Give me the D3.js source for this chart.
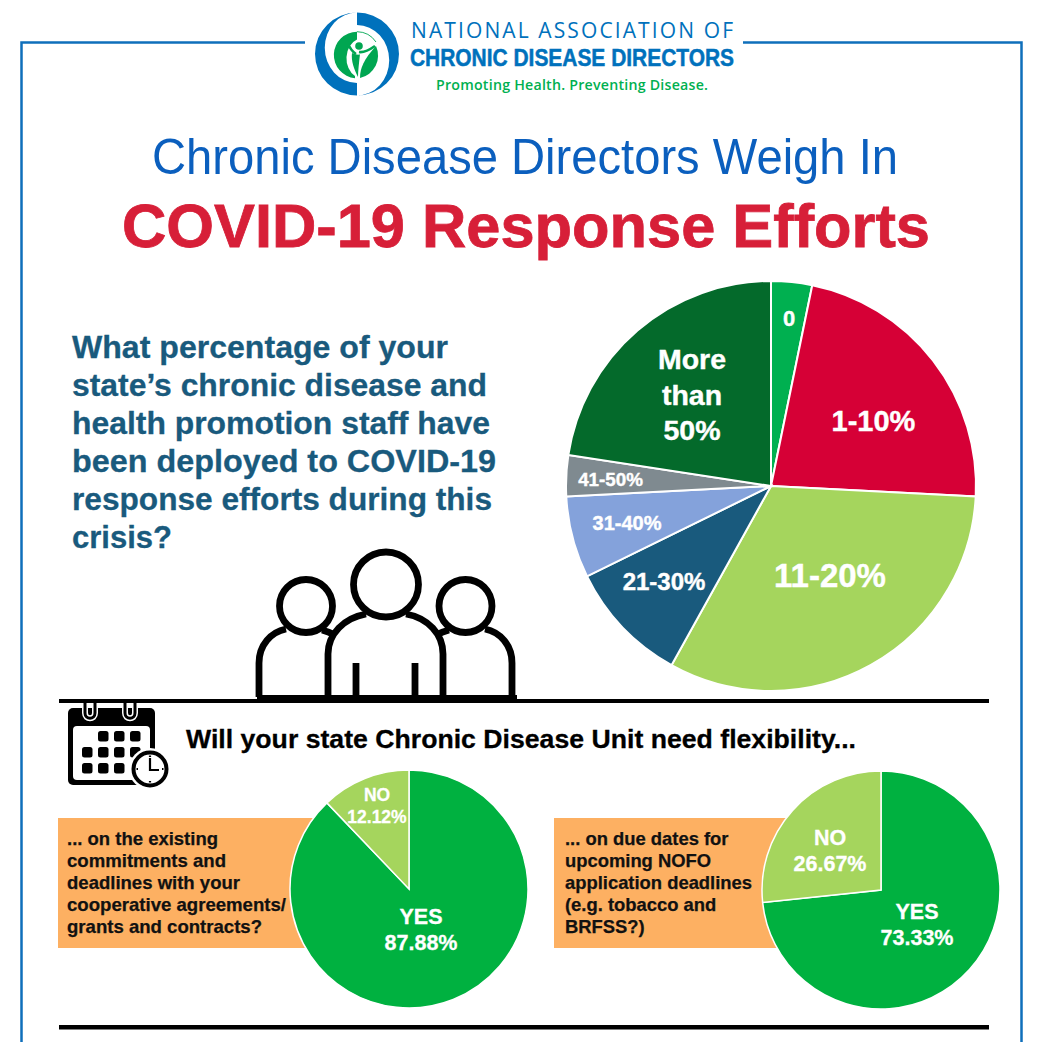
<!DOCTYPE html>
<html><head><meta charset="utf-8">
<script src="https://cdn.jsdelivr.net/npm/d3@7/dist/d3.min.js"></script>
<style>html,body{margin:0;padding:0;background:#fff;overflow:hidden}svg{display:block}text{font-family:"Liberation Sans",Arial,sans-serif}</style>
</head><body><svg id="c" width="1042" height="1042" viewBox="0 0 1042 1042"></svg>
<script>
const staffCategories=["0","1-10%","11-20%","21-30%","31-40%","41-50%","More than 50%"];
const staffValues=[1,7,10,3,2,1,7];
const flexCategories=["YES","NO"];
const commitValues=[87.88,12.12];
const dueValues=[73.33,26.67];
const questionLines=["What percentage of your","state’s chronic disease and","health promotion staff have","been deployed to COVID-19","response efforts during this","crisis?"];
const leftLines=["... on the existing","commitments and","deadlines with your","cooperative agreements/","grants and contracts?"];
const rightLines=["... on due dates for","upcoming NOFO","application deadlines","(e.g. tobacco and","BRFSS?)"];

const svg=d3.select("#c");
const BLUE="#0f6fbb",ORANGE="#fdb062",TEAL="#195a7d",LOGO="#0071bc",G="#00a651";
function txt(g,x,y,s,size,fill,w,anchor,extra){
  const t=g.append("text").attr("x",x).attr("y",y).text(s).attr("font-size",size).attr("fill",fill)
   .attr("font-weight",w||"normal").attr("text-anchor",anchor||"start");
  if(extra)for(const k in extra)t.attr(k,extra[k]);
  return t;
}
const heavy=(c,w)=>({stroke:c,"stroke-width":w});
// frame
svg.append("path").attr("d","M305 42.5H21.5V1042M743 42.5H1021.5V1042").attr("fill","none").attr("stroke",BLUE).attr("stroke-width",2.5);

// logo
const logo=svg.append("g").attr("transform","translate(357,54)");
const swirl="M0 -41.5A42 41.5 0 0 1 0 41.5A32 35 0 0 0 0 -29Z";
logo.append("path").attr("d",swirl).attr("fill",LOGO);
logo.append("path").attr("d",swirl).attr("fill",LOGO).attr("transform","rotate(180)");
const lg=logo.append("g").attr("transform","translate(0,1)");
lg.append("path").attr("d","M0 -23.3A23.3 23.3 0 0 0 -2 23.2L-2 21A16 20 0 0 1 0 -15.5Z").attr("fill",G);
lg.append("path").attr("d","M0 -23.3A23.3 23.3 0 0 1 19 -13").attr("fill","none").attr("stroke",G).attr("stroke-width",0.9);
lg.append("path").attr("d","M-10 -13Q-6 -4 -1 -1M18 -9Q8 -2 2 -3").attr("fill","none").attr("stroke",G).attr("stroke-width",2.6);
lg.append("path").attr("d","M-5 -2C-1 0 3 0 3 -1C2 8 1 16 1 22C-3 14 -6 6 -5 -2Z").attr("fill",G);
lg.append("path").attr("d","M19 -9A23 23 0 0 1 3 23C3 13 7 4 19 -9Z").attr("fill",G);
lg.append("circle").attr("cx",2).attr("cy",-9).attr("r",3.8).attr("fill",G);

const tf='"Open Sans","Liberation Sans",sans-serif';
txt(svg,411,38,"NATIONAL ASSOCIATION OF",21,LOGO,"normal","start",{"textLength":"322","lengthAdjust":"spacing"}).style("font-family",tf);
txt(svg,410,66,"CHRONIC DISEASE DIRECTORS",24,LOGO,"bold","start",{"textLength":"324","lengthAdjust":"spacingAndGlyphs",...heavy(LOGO,0.5)});
txt(svg,436,90,"Promoting Health. Preventing Disease.",14.2,"#00b050","600","start",{"textLength":"272","lengthAdjust":"spacing"}).style("font-family",tf);

// titles
txt(svg,525,174,"Chronic Disease Directors Weigh In",50,"#0b5fbe","normal","middle",{"textLength":"746","lengthAdjust":"spacingAndGlyphs"});
txt(svg,526,247,"COVID-19 Response Efforts",61,"#d71f38","bold","middle",{"textLength":"808","lengthAdjust":"spacingAndGlyphs",...heavy("#d71f38",0.8)});

// question
const qW=[376,415,418,424,420,100];
questionLines.forEach((l,i)=>txt(svg,72,358+i*38,l,32,TEAL,"bold","start",{"textLength":qW[i],"lengthAdjust":"spacingAndGlyphs",...heavy(TEAL,0.3)}));

// big pie
const pieGen=d3.pie().sort(null).value(d=>d);
const bigColor=d3.scaleOrdinal().domain(staffCategories).range(["#00b050","#d60036","#a5d55d","#195a7d","#84a2db","#7f8a90","#046a2b"]);
const bigArc=d3.arc().innerRadius(0).outerRadius(205);
const big=svg.append("g").attr("transform","translate(771,486)");
big.selectAll("path").data(pieGen(staffValues)).join("path")
  .attr("d",bigArc).attr("fill",(d,i)=>bigColor(staffCategories[i])).attr("stroke","#fff").attr("stroke-width",2);
const lab=[{x:789,y:326,f:22},{x:873.5,y:431,f:29},{x:830,y:587,f:33},{x:664,y:590,f:24},{x:627,y:530,f:20},{x:610.5,y:486,f:18.8}];
lab.forEach((l,i)=>txt(svg,l.x,l.y,staffCategories[i],l.f,"#fff","bold","middle",heavy("#fff",0.4)));
["More","than","50%"].forEach((s,i)=>txt(svg,692,369+i*35.5,s,28.5,"#fff","bold","middle",heavy("#fff",0.4)));

// people
const p=svg.append("g").attr("transform","translate(240,540)").attr("fill","none").attr("stroke","#000").attr("stroke-width",6.8);
p.append("circle").attr("cx",66).attr("cy",66).attr("r",26.5);
p.append("circle").attr("cx",225.5).attr("cy",66).attr("r",26.5);
p.append("circle").attr("cx",146).attr("cy",44.5).attr("r",32.5);
p.append("path").attr("d","M19 157V123C19 105 31 92 46 89M82 90C86 91 91 93 95 95M196 95C200 93 205 91 209 90M245 89C260 92 272 105 272 123V157");
p.append("path").attr("d","M88 157V114C88 94 104 78 126 74M166 74C188 78 203 94 203 114V157M116 123V157M175 123V157");
svg.append("rect").attr("x",257).attr("y",695).attr("width",260).attr("height",8).attr("fill","#000");
svg.append("rect").attr("x",59).attr("y",699).attr("width",930).attr("height",4).attr("fill","#000");
svg.append("rect").attr("x",59).attr("y",1025).attr("width",930).attr("height",4.5).attr("fill","#000");

// calendar
const cal=svg.append("g").attr("transform","translate(55,695)");
cal.append("rect").attr("x",13).attr("y",13).attr("width",87).attr("height",77).attr("rx",5).attr("fill","#000");
cal.append("rect").attr("x",18).attr("y",31).attr("width",77).attr("height",54).attr("rx",4).attr("fill","#fff");
const rings="M30 8V18C30 25 40 25 40 18V8M70 8V18C70 25 80 25 80 18V8";
cal.append("path").attr("d",rings).attr("fill","none").attr("stroke","#fff").attr("stroke-width",6);
cal.append("path").attr("d",rings).attr("fill","none").attr("stroke","#000").attr("stroke-width",3);
const cells=[[1,0],[2,0],[3,0],[0,1],[1,1],[2,1],[3,1],[0,2],[1,2],[2,2]];
cal.selectAll("rect.cell").data(cells).join("rect").attr("class","cell").attr("x",d=>27+d[0]*16).attr("y",d=>36+d[1]*16).attr("width",10.5).attr("height",10.5).attr("rx",2.5).attr("fill","#000");
cal.append("circle").attr("cx",95).attr("cy",74).attr("r",21).attr("fill","#fff");
cal.append("circle").attr("cx",95).attr("cy",74).attr("r",16.5).attr("fill","#fff").attr("stroke","#000").attr("stroke-width",4);
cal.append("path").attr("d","M95 63V75H104M95 60.5V62M95 86V87.5M81.5 74H83M107 74H108.5").attr("fill","none").attr("stroke","#000").attr("stroke-width",2.2);

txt(svg,186,748,"Will your state Chronic Disease Unit need flexibility...",26,"#000","bold","start",{"textLength":"670","lengthAdjust":"spacingAndGlyphs",...heavy("#000",0.3)});

// orange boxes
svg.append("rect").attr("x",58).attr("y",818).attr("width",260).attr("height",130).attr("fill",ORANGE);
svg.append("rect").attr("x",554).attr("y",818).attr("width",240).attr("height",130).attr("fill",ORANGE);
const leftW=[151,159,173,219,195];
leftLines.forEach((l,i)=>txt(svg,67,845+i*22,l,18.4,"#111","bold","start",{"textLength":leftW[i],"lengthAdjust":"spacingAndGlyphs",...heavy("#111",0.25)}));
rightLines.forEach((l,i)=>txt(svg,565,845+i*22,l,18.4,"#111","bold","start",heavy("#111",0.25)));

// small pies
const smallColor=d3.scaleOrdinal().domain(flexCategories).range(["#00b140","#a5d55d"]);
const smallArc=d3.arc().innerRadius(0).outerRadius(119);
function small(cx,cy,vals){
  svg.append("g").attr("transform",`translate(${cx},${cy})`).selectAll("path").data(pieGen(vals)).join("path")
    .attr("d",smallArc).attr("fill",(d,i)=>smallColor(flexCategories[i])).attr("stroke","#fff").attr("stroke-width",1.5);
}
small(409,889,commitValues);
small(881,890,dueValues);
const W=heavy("#fff",0.3), fmt=d3.format(".2f");
txt(svg,421,924,flexCategories[0],21.5,"#fff","bold","middle",W);
txt(svg,421,950,fmt(commitValues[0])+"%",21.5,"#fff","bold","middle",W);
txt(svg,377,801,flexCategories[1],17.5,"#fff","bold","middle",W);
txt(svg,377,823,fmt(commitValues[1])+"%",17.5,"#fff","bold","middle",W);
txt(svg,917,919,flexCategories[0],21.5,"#fff","bold","middle",W);
txt(svg,917,945,fmt(dueValues[0])+"%",21.5,"#fff","bold","middle",W);
txt(svg,830,845,flexCategories[1],21.5,"#fff","bold","middle",W);
txt(svg,830,871,fmt(dueValues[1])+"%",21.5,"#fff","bold","middle",W);
</script></body></html>
